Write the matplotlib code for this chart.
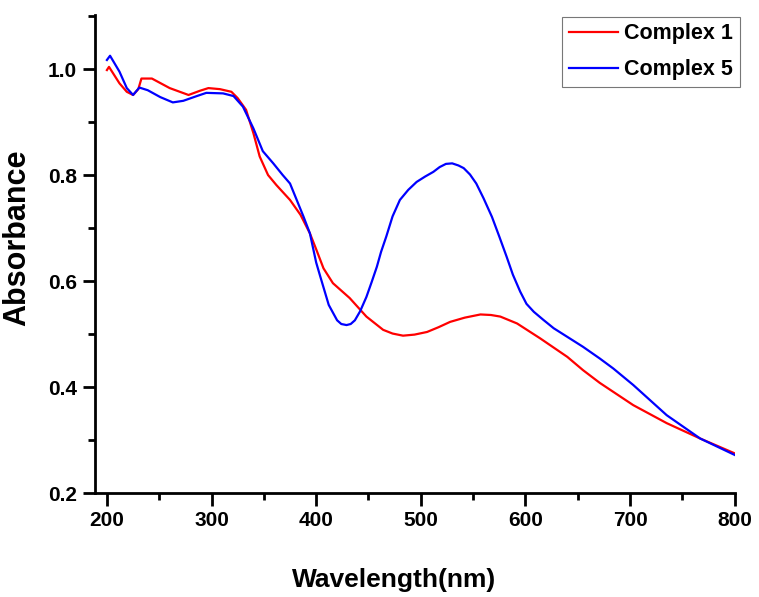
import matplotlib
matplotlib.use("Agg")
import matplotlib.pyplot as plt
from matplotlib.ticker import MultipleLocator

plt.rcParams["font.family"] = ["Liberation Sans", "DejaVu Sans"]
plt.rcParams["font.weight"] = "bold"

# Complex 1 (red)
c1_wl = [200, 202, 212, 219, 225, 230, 233, 243, 260, 278, 289, 297, 308, 319, 325,
         333, 340, 346, 354, 362, 375, 385, 394, 400, 407, 416, 432, 448, 464, 473,
         483, 494, 506, 517, 528, 542, 557, 567, 576, 592, 614, 640, 655, 671, 703,
         735, 767, 800]
c1_abs = [0.998, 1.004, 0.973, 0.957, 0.951, 0.962, 0.982, 0.982, 0.964, 0.951, 0.959,
          0.964, 0.962, 0.957, 0.945, 0.923, 0.879, 0.835, 0.800, 0.781, 0.753, 0.725,
          0.690, 0.660, 0.624, 0.596, 0.568, 0.533, 0.508, 0.501, 0.497, 0.499, 0.504,
          0.513, 0.523, 0.531, 0.537, 0.536, 0.533, 0.520, 0.492, 0.457, 0.432, 0.408,
          0.366, 0.332, 0.303, 0.275]

# Complex 5 (blue)
c5_wl = [200, 203, 212, 219, 225, 231, 239, 251, 263, 273, 286, 295, 311, 321, 330,
         340, 349, 359, 368, 375, 388, 394, 400, 404, 412, 420, 424, 429, 433, 437,
         442, 448, 453, 458, 462, 467, 473, 480, 488, 496, 504, 512, 518, 524, 530,
         536, 541, 547, 553, 560, 568, 575, 582, 588, 595, 601, 608, 617, 627, 655,
         671, 684, 703, 735, 767, 800]
c5_abs = [1.017, 1.025, 0.995, 0.964, 0.951, 0.965, 0.960, 0.947, 0.937, 0.940, 0.949,
          0.955, 0.954, 0.949, 0.929, 0.888, 0.845, 0.822, 0.800, 0.784, 0.721, 0.690,
          0.635, 0.608, 0.555, 0.526, 0.519, 0.517, 0.519, 0.526, 0.543, 0.570, 0.598,
          0.627, 0.655, 0.684, 0.722, 0.753, 0.772, 0.787, 0.797, 0.806, 0.815, 0.821,
          0.822, 0.818, 0.813, 0.801, 0.784, 0.756, 0.721, 0.684, 0.646, 0.612, 0.580,
          0.557, 0.542, 0.527, 0.511, 0.476, 0.454, 0.435, 0.404, 0.347, 0.303, 0.272]

fig = plt.figure(figsize=(7.59, 5.97), dpi=100)
ax = fig.add_axes([0.125, 0.174, 0.843, 0.801])

ax.plot(c1_wl, c1_abs, color="#ff0000", lw=1.6, label="Complex 1")
ax.plot(c5_wl, c5_abs, color="#0000ff", lw=1.6, label="Complex 5")

ax.set_xlim(188.5, 800)
ax.set_ylim(0.2, 1.102)
ax.xaxis.set_major_locator(MultipleLocator(100))
ax.xaxis.set_minor_locator(MultipleLocator(50))
ax.yaxis.set_minor_locator(MultipleLocator(0.1))
ax.set_yticks([0.2, 0.4, 0.6, 0.8, 1.0])
ax.set_yticklabels(["0.2", "0.4", "0.6", "0.8", "1.0"])

for s in ["top", "right"]:
    ax.spines[s].set_visible(False)
for s in ["left", "bottom"]:
    ax.spines[s].set_linewidth(2)

ax.tick_params(which="major", direction="out", length=9, width=2, labelsize=15, pad=4)
ax.tick_params(which="minor", direction="out", length=5, width=2)
for lab in ax.get_xticklabels() + ax.get_yticklabels():
    lab.set_fontweight("bold")

ax.set_xlabel("Wavelength(nm)", fontsize=19, fontweight="bold", va="top")
ax.xaxis.set_label_coords(0.467, -0.157)
ax.set_ylabel("Absorbance", fontsize=22, fontweight="bold")
ax.yaxis.set_label_coords(-0.098, 0.535)

leg = ax.legend(loc="upper right", bbox_to_anchor=(1.008, 0.996), borderaxespad=0,
                fancybox=False, frameon=True, prop={"size": 15.5, "weight": "bold"},
                handlelength=2.3, handletextpad=0.3, borderpad=0.3, labelspacing=0.7)
leg.get_frame().set_edgecolor("#555555")
leg.get_frame().set_linewidth(0.8)
for line in leg.get_lines():
    line.set_linewidth(1.6)

fig.savefig("out.png", dpi=100)
